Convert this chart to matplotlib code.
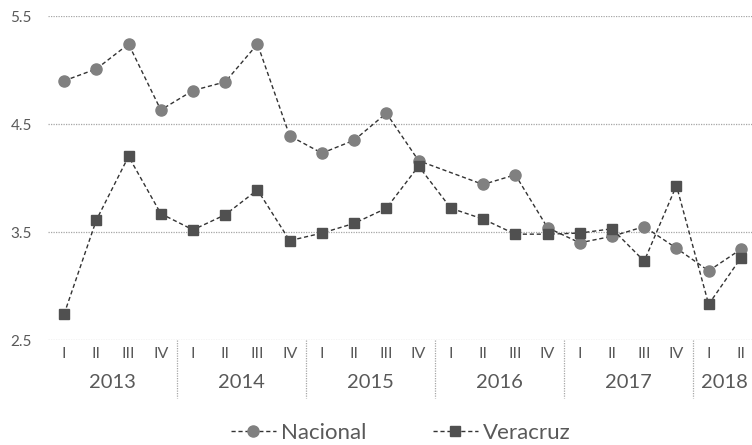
import matplotlib
matplotlib.use("Agg")
import matplotlib.pyplot as plt
import matplotlib.transforms as mtransforms
import numpy as np

plt.rcParams['font.family'] = ['Lato', 'DejaVu Sans']

# Data (quarterly, 2013 I - 2018 II)
quarters = ['I', 'II', 'III', 'IV'] * 5 + ['I', 'II']
years = ['2013', '2014', '2015', '2016', '2017', '2018']
year_sizes = [4, 4, 4, 4, 4, 2]

nacional = [4.90, 5.01, 5.24, 4.63,
            4.81, 4.89, 5.24, 4.39,
            4.23, 4.35, 4.60, 4.16,
            np.nan, 3.94, 4.03, 3.54,
            3.40, 3.46, 3.55, 3.35,
            3.14, 3.34]
veracruz = [2.74, 3.61, 4.20, 3.67,
            3.52, 3.66, 3.89, 3.42,
            3.49, 3.58, 3.72, 4.11,
            3.72, 3.62, 3.48, 3.48,
            3.49, 3.53, 3.23, 3.93,
            2.83, 3.26]

text_color = '#595959'
W, H = 752, 445
fig = plt.figure(figsize=(W / 100, H / 100), dpi=100)
ax = fig.add_axes([48 / W, 1 - 340 / H, 709 / W, 324 / H])

x = np.arange(len(quarters))
nac = np.array(nacional)
ok = ~np.isnan(nac)

ax.plot(x[ok], nac[ok], color='#333333', linestyle=(0, (3, 2)), linewidth=1.0,
        marker='o', markersize=8, markerfacecolor='#808080',
        markeredgecolor='#808080', label='Nacional', zorder=3)
ax.plot(x, veracruz, color='#333333', linestyle=(0, (3, 2)), linewidth=1.0,
        marker='s', markersize=7.5, markerfacecolor='#505050',
        markeredgecolor='#505050', label='Veracruz', zorder=3)

ax.set_xlim(-0.5, len(quarters) - 0.5)
ax.set_ylim(2.5, 5.5)
ax.set_yticks([2.5, 3.5, 4.5, 5.5])
ax.set_yticklabels(['2.5', '3.5', '4.5', '5.5'])
ax.yaxis.grid(True, color='#a6a6a6', linestyle=(0, (1, 1)), linewidth=0.9)
ax.set_axisbelow(True)
for s in ax.spines.values():
    s.set_visible(False)

ax.tick_params(axis='y', length=0, labelsize=11, labelcolor=text_color, pad=27)
for lbl in ax.get_yticklabels():
    lbl.set_horizontalalignment('left')

ax.set_xticks(x)
ax.set_xticklabels(quarters)
ax.tick_params(axis='x', length=0, labelsize=11.5, labelcolor=text_color, pad=5)

# year labels and separators
trans = mtransforms.blended_transform_factory(ax.transData, ax.transAxes)
start = 0
for i, (yr, n) in enumerate(zip(years, year_sizes)):
    center = start + (n - 1) / 2
    ax.text(center, -0.13, yr, transform=trans, ha='center', va='center',
            fontsize=14.5, color=text_color)
    if i > 0:
        ax.plot([start - 0.5, start - 0.5], [0, -0.18], transform=trans,
                color='#a6a6a6', linestyle=(0, (1, 1)), linewidth=0.9,
                clip_on=False)
    start += n

leg = fig.legend(loc='center', bbox_to_anchor=(401 / W, 1 - 433 / H), ncol=2,
                 frameon=False, fontsize=16, handlelength=2.0,
                 columnspacing=3.0, handletextpad=0.25)
for t in leg.get_texts():
    t.set_color(text_color)

fig.savefig('out.png', dpi=100)
